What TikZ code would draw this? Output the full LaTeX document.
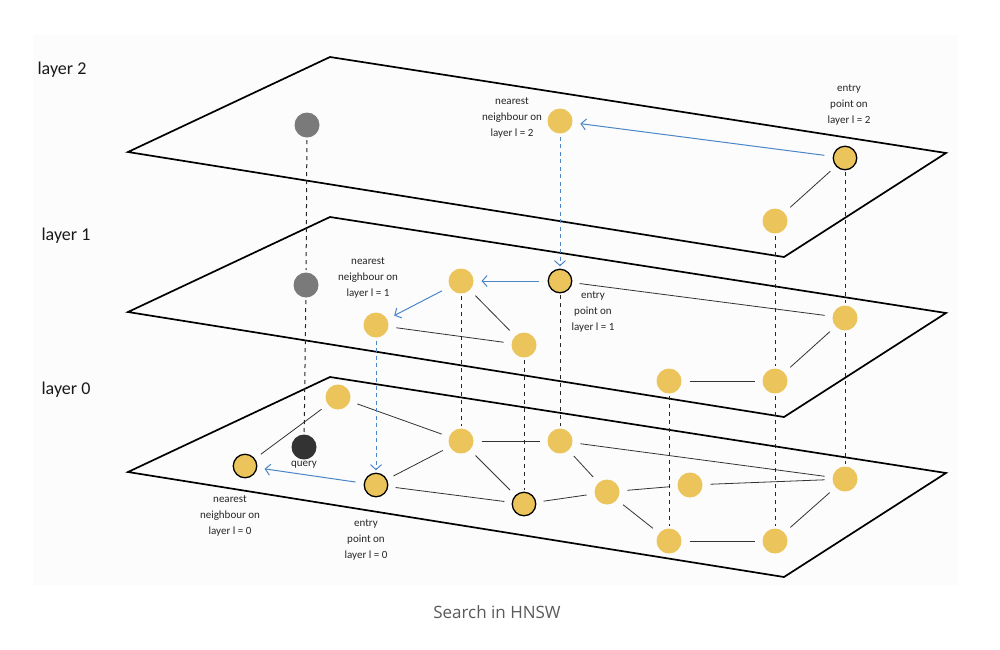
\documentclass[tikz,border=0pt]{standalone}
\usepackage{fontspec}
\setmainfont{Carlito}
\newfontfamily\capfont{Open Sans}
\usetikzlibrary{arrows.meta}
\definecolor{hyellow}{HTML}{EBC55C}
\definecolor{ngray}{HTML}{7A7A7A}
\definecolor{qblack}{HTML}{333333}
\definecolor{hblue}{HTML}{4A86C8}
\definecolor{bgpanel}{HTML}{FCFCFC}
\definecolor{capgray}{HTML}{5A5A5A}
\tikzset{
  ynode/.style={circle, fill=hyellow, minimum size=25pt, inner sep=0pt, outer sep=0pt},
  ynodeb/.style={circle, fill=hyellow, draw=black, line width=1.3pt, minimum size=23.5pt, inner sep=0pt, outer sep=0pt},
  gnode/.style={circle, fill=ngray, minimum size=25pt, inner sep=0pt, outer sep=0pt},
  qnode/.style={circle, fill=qblack, minimum size=25pt, inner sep=0pt, outer sep=0pt},
  plane/.style={draw=black, line width=1.7pt, line join=miter},
  edge/.style={draw=black!80, line width=0.8pt, shorten <=8pt, shorten >=8pt},
  vdash/.style={draw=black!85, line width=1pt, dash pattern=on 4pt off 4pt, shorten <=2.5pt, shorten >=2.5pt},
  barrow/.style={draw=hblue, line width=1pt, -{Straight Barb[length=5pt,width=11pt]}, shorten <=9pt, shorten >=8pt},
  bdash/.style={draw=hblue, line width=1pt, dash pattern=on 4pt off 3.5pt, -{Straight Barb[length=5pt,width=11pt]}, shorten <=3pt, shorten >=3pt},
  lbl/.style={font=\fontsize{11}{16}\selectfont, align=center, text=black!85, inner sep=0pt},
  layerlbl/.style={font=\fontsize{18}{20}\selectfont, text=black!90, inner sep=0pt},
}
\begin{document}
\begin{tikzpicture}[x=1pt, y=-1pt]
\useasboundingbox (0,0) rectangle (1000,649);
\fill[white] (0,0) rectangle (1000,649);
\fill[bgpanel] (33,35) rectangle (958,585);

% planes
\coordinate (L2t) at (330,57);  \coordinate (L2l) at (128,152); \coordinate (L2b) at (784,257); \coordinate (L2r) at (946,153);
\coordinate (L1t) at (330,217); \coordinate (L1l) at (128,312); \coordinate (L1b) at (784,417); \coordinate (L1r) at (946,313);
\coordinate (L0t) at (330,377); \coordinate (L0l) at (128,472); \coordinate (L0b) at (784,577); \coordinate (L0r) at (946,473);
\draw[plane] (L2t) -- (L2l) -- (L2b) -- (L2r) -- cycle;
\draw[plane] (L1t) -- (L1l) -- (L1b) -- (L1r) -- cycle;
\draw[plane] (L0t) -- (L0l) -- (L0b) -- (L0r) -- cycle;

% layer 2 nodes
\node[gnode]  (g2) at (307,125) {};
\node[ynode]  (n2) at (560,121) {};
\node[ynodeb] (e2) at (845,158) {};
\node[ynode]  (c2) at (775,221) {};
% layer 1 nodes
\node[gnode]  (g1) at (306,285) {};
\node[ynode]  (a1) at (461,281) {};
\node[ynodeb] (e1) at (560,281) {};
\node[ynode]  (n1) at (376,325) {};
\node[ynode]  (b1) at (524,345) {};
\node[ynode]  (r1) at (845,318) {};
\node[ynode]  (p1) at (669,381) {};
\node[ynode]  (q1) at (775,381) {};
% layer 0 nodes
\node[ynode]  (t0) at (338,397) {};
\node[qnode]  (q0) at (304,447) {};
\node[ynodeb] (n0) at (245,466) {};
\node[ynodeb] (e0) at (376,485) {};
\node[ynode]  (a0) at (461,441) {};
\node[ynode]  (m0) at (560,441) {};
\node[ynodeb] (b0) at (524,504) {};
\node[ynode]  (f0) at (607,492) {};
\node[ynode]  (h0) at (690,485) {};
\node[ynode]  (r0) at (845,479) {};
\node[ynode]  (p0) at (669,541) {};
\node[ynode]  (s0) at (775,541) {};

% edges
\draw[edge] (e2) -- (c2);
\draw[edge] (a1) -- (b1);
\draw[edge] (n1) -- (b1);
\draw[edge] (e1) -- (r1);
\draw[edge] (q1) -- (r1);
\draw[edge] (p1) -- (q1);
\draw[edge] (n0) -- (t0);
\draw[edge] (t0) -- (a0);
\draw[edge] (a0) -- (m0);
\draw[edge] (a0) -- (e0);
\draw[edge] (a0) -- (b0);
\draw[edge] (e0) -- (b0);
\draw[edge] (b0) -- (f0);
\draw[edge] (m0) -- (f0);
\draw[edge] (m0) -- (r0);
\draw[edge] (f0) -- (h0);
\draw[edge] (f0) -- (p0);
\draw[edge] (h0) -- (r0);
\draw[edge] (p0) -- (s0);
\draw[edge] (s0) -- (r0);

% vertical dashed links
\draw[vdash] (g2) -- (g1);
\draw[vdash] (g1) -- (q0);
\draw[vdash] (e1) -- (m0);
\draw[vdash] (a1) -- (a0);
\draw[vdash] (b1) -- (b0);
\draw[vdash] (e2) -- (r1);
\draw[vdash] (r1) -- (r0);
\draw[vdash] (c2) -- (q1);
\draw[vdash] (q1) -- (s0);
\draw[vdash] (p1) -- (p0);

% search path
\draw[barrow] (e2) -- (n2);
\draw[bdash]  (n2) -- (e1);
\draw[barrow] (e1) -- (a1);
\draw[barrow] (a1) -- (n1);
\draw[bdash]  (n1) -- (e0);
\draw[barrow] (e0) -- (n0);

% labels
\node[layerlbl] (lay2) at (62,70)  {layer 2};
\node[layerlbl] (lay1) at (66,236) {layer 1};
\node[layerlbl] (lay0) at (66,390) {layer 0};
\node[lbl] (tn2) at (512,118) {nearest\\neighbour on\\layer l = 2};
\node[lbl] (te2) at (849,105) {entry\\point on\\layer l = 2};
\node[lbl] (tn1) at (368,278) {nearest\\neighbour on\\layer l = 1};
\node[lbl] (te1) at (593,312) {entry\\point on\\layer l = 1};
\node[lbl] (tq0) at (304,465) {query};
\node[lbl] (tn0) at (230,516) {nearest\\neighbour on\\layer l = 0};
\node[lbl] (te0) at (366,540) {entry\\point on\\layer l = 0};
\node[font=\capfont\fontsize{17}{20}\selectfont, text=capgray, inner sep=0pt] (cap) at (497,612) {Search in HNSW};
\end{tikzpicture}
\end{document}
